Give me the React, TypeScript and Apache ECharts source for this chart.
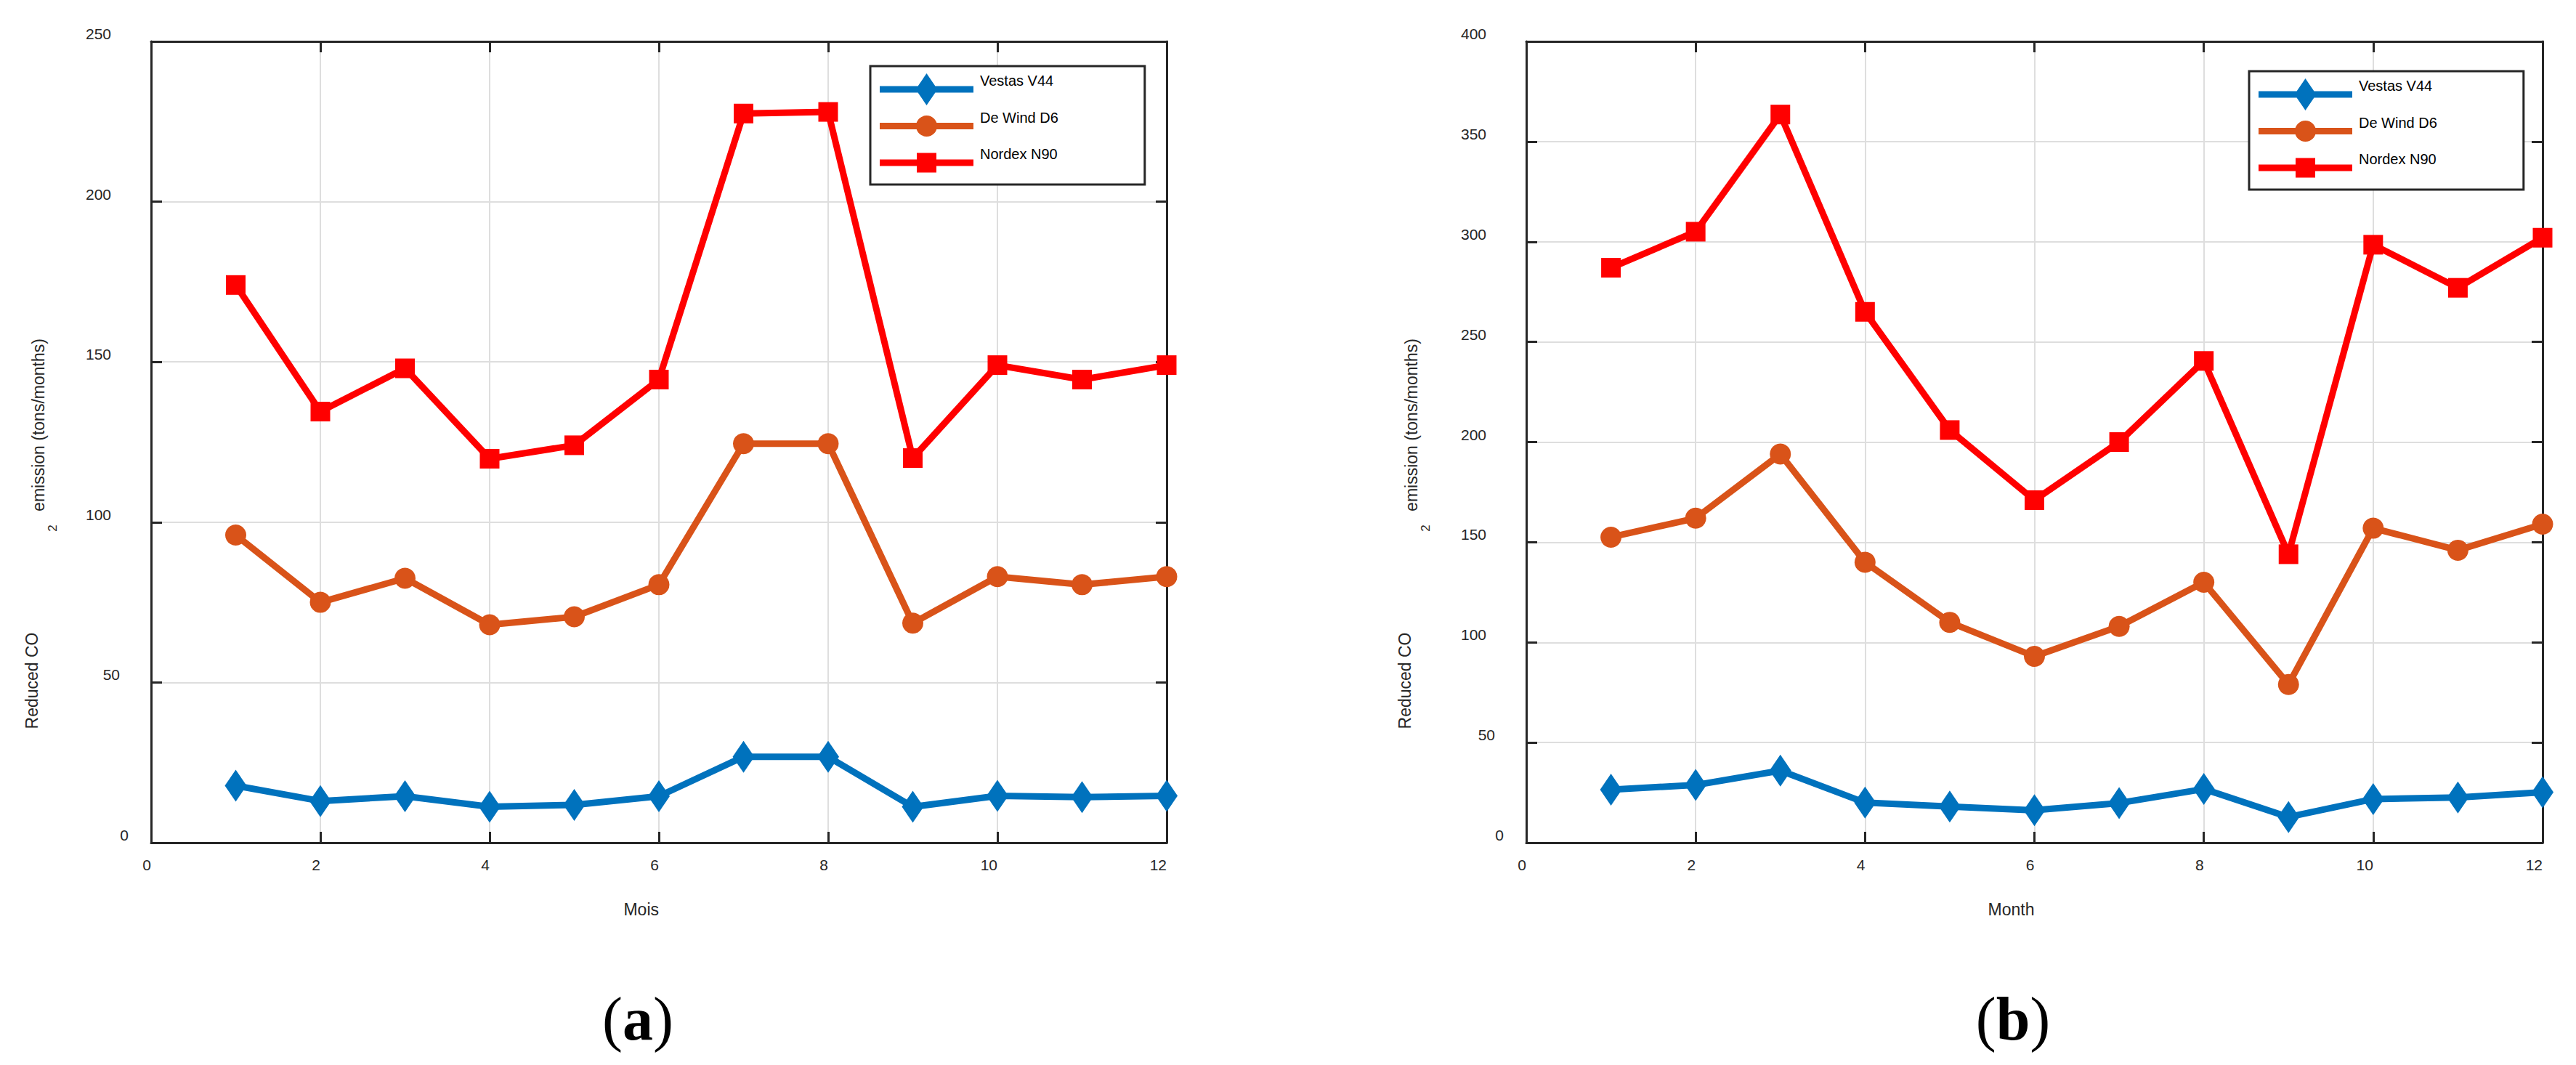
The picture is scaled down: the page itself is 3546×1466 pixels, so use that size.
import React, { useEffect, useRef } from "react";
import * as echarts from "echarts";

// ---------------- data ----------------
const months = [1, 2, 3, 4, 5, 6, 7, 8, 9, 10, 11, 12];
const seriesNames = ["Vestas V44", "De Wind D6", "Nordex N90"];

// panel (a)
const vestasA = [17.8, 13.0, 14.5, 11.2, 11.8, 14.5, 26.8, 26.8, 11.2, 14.6, 14.2, 14.6];
const deWindA = [96, 75, 82.5, 68, 70.5, 80.5, 124.5, 124.5, 68.5, 83, 80.5, 83];
const nordexA = [174, 134.5, 148, 119.8, 124, 144.5, 227.5, 228, 120, 149, 144.5, 149];

// panel (b)
const vestasB = [26.5, 28.8, 36, 20, 18, 16.2, 19.8, 26.8, 12.8, 21.8, 22.6, 25.2];
const deWindB = [152.5, 162, 194, 140, 110, 93, 108, 130, 79, 157, 146, 159];
const nordexB = [287, 305, 363.5, 265, 206, 171, 200, 240.5, 144, 298.5, 277, 302];

// axes
const xMin = 0;
const xMax = 12;
const xStep = 2;
const yMaxA = 250;
const yMaxB = 400;
const yStep = 50;
const xTitles = ["Mois", "Month"];
const yTitleMain = "Reduced CO";
const yTitleSub = "2";
const yTitleRest = "emission (tons/months)";
const captions = ["a", "b"];

// ---------------- styles ----------------
const FONT = "Liberation Sans";
const SERIF = "Liberation Serif";
const AXIS = "#262626";
const GRID = "#dedede";
const COLORS = ["#0072BD", "#D95319", "#FF0000"];

const ICONS = [
  "path://M0 17.5 L129 17.5 L129 26.5 L0 26.5 Z M64.5 0 L79.5 22 L64.5 44 L49.5 22 Z",
  "path://M0 17.5 L129 17.5 L129 26.5 L0 26.5 Z M50 22 A14.5 14.5 0 1 1 79 22 A14.5 14.5 0 1 1 50 22 Z M64 0 L64.02 0 L64.02 0.02 Z M64 43.98 L64.02 44 L64 44 Z",
  "path://M0 17.5 L129 17.5 L129 26.5 L0 26.5 Z M51 8.5 L78 8.5 L78 35.5 L51 35.5 Z M64 0 L64.02 0 L64.02 0.02 Z M64 43.98 L64.02 44 L64 44 Z",
];

function xBottom(gridIndex: number, name: string) {
  return {
    type: "value",
    gridIndex,
    position: "bottom",
    min: xMin,
    max: xMax,
    interval: xStep,
    axisLine: { show: true, onZero: false, lineStyle: { color: AXIS, width: 3 } },
    axisTick: { show: true, inside: true, length: 15, lineStyle: { color: AXIS, width: 3 } },
    axisLabel: {
      show: true,
      margin: 20,
      align: "right",
      color: AXIS,
      fontSize: 21,
      fontFamily: FONT,
    },
    splitLine: { show: true, lineStyle: { color: GRID, width: 2 } },
    name,
    nameLocation: "middle",
    nameGap: 80,
    nameTextStyle: { fontSize: 23, fontFamily: FONT, color: AXIS, align: "right" },
  };
}

function xTop(gridIndex: number) {
  return {
    type: "value",
    gridIndex,
    position: "top",
    min: xMin,
    max: xMax,
    interval: xStep,
    axisLine: { show: true, onZero: false, lineStyle: { color: AXIS, width: 3 } },
    axisTick: { show: true, inside: true, length: 15, lineStyle: { color: AXIS, width: 3 } },
    axisLabel: { show: false },
    splitLine: { show: false },
  };
}

const richLabel = (pad: number) => ({
  fontSize: 21,
  fontFamily: FONT,
  color: AXIS,
  padding: [0, pad, 0, 0],
});

function yLeft(gridIndex: number, max: number) {
  return {
    type: "value",
    gridIndex,
    position: "left",
    min: 0,
    max,
    interval: yStep,
    axisLine: { show: true, onZero: false, lineStyle: { color: AXIS, width: 3 } },
    axisTick: { show: true, inside: true, length: 15, lineStyle: { color: AXIS, width: 3 } },
    axisLabel: {
      show: true,
      margin: 31,
      align: "right",
      verticalAlign: "bottom",
      color: AXIS,
      fontSize: 21,
      fontFamily: FONT,
      formatter: (v: number) => {
        const s = String(v);
        return `{d${s.length}|${s}}`;
      },
      rich: { d1: richLabel(0), d2: richLabel(12), d3: richLabel(24) },
    },
    splitLine: { show: true, lineStyle: { color: GRID, width: 2 } },
  };
}

function yRight(gridIndex: number, max: number) {
  return {
    type: "value",
    gridIndex,
    position: "right",
    min: 0,
    max,
    interval: yStep,
    axisLine: { show: true, onZero: false, lineStyle: { color: AXIS, width: 3 } },
    axisTick: { show: true, inside: true, length: 15, lineStyle: { color: AXIS, width: 3 } },
    axisLabel: { show: false },
    splitLine: { show: false },
  };
}

const SYMBOLS: any[] = [
  ["diamond", [30, 44]],
  ["circle", 29],
  ["rect", 27],
];

function makeSeries(values: number[], idx: number, axisIndex: number) {
  const color = COLORS[idx];
  return {
    type: "line",
    name: seriesNames[idx],
    xAxisIndex: axisIndex,
    yAxisIndex: axisIndex,
    data: months.map((m, i) => [m, values[i]]),
    symbol: SYMBOLS[idx][0],
    symbolSize: SYMBOLS[idx][1],
    showSymbol: true,
    clip: false,
    lineStyle: { color, width: 9 },
    itemStyle: { color, borderWidth: 0 },
    emphasis: { disabled: true },
    z: 3 + idx,
  };
}

function makeLegend(left: number, top: number) {
  return {
    orient: "vertical",
    left,
    top,
    padding: [8, 119, 6, 13],
    itemWidth: 129,
    itemHeight: 44,
    itemGap: 2.5,
    borderColor: AXIS,
    borderWidth: 3,
    backgroundColor: "#ffffff",
    selectedMode: false,
    itemStyle: { borderWidth: 0 },
    formatter: (name: string) => name + "\n ",
    textStyle: {
      fontSize: 20,
      fontFamily: FONT,
      color: "#000",
      lineHeight: 24,
      padding: [0, 0, 0, 4],
    },
    data: seriesNames.map((n, i) => ({ name: n, icon: ICONS[i] })),
  };
}

function yTitleGraphics(dx: number) {
  const base = { fill: AXIS, fontFamily: FONT, align: "center", verticalAlign: "middle" };
  return [
    {
      type: "text",
      x: 44 + dx,
      y: 937,
      rotation: Math.PI / 2,
      style: { ...base, text: yTitleMain, fontSize: 23 },
    },
    {
      type: "text",
      x: 53 + dx,
      y: 585,
      rotation: Math.PI / 2,
      style: { ...base, text: yTitleRest, fontSize: 23 },
    },
    {
      type: "text",
      x: 72 + dx,
      y: 727,
      rotation: Math.PI / 2,
      style: { ...base, text: yTitleSub, fontSize: 17 },
    },
  ];
}

function captionGraphic(letter: string, x: number) {
  return {
    type: "text",
    x,
    y: 1402,
    style: {
      text: `{p|(}{b|${letter}}{p|)}`,
      align: "center",
      verticalAlign: "middle",
      fill: "#000",
      rich: {
        p: { fontFamily: SERIF, fontSize: 84, fill: "#000" },
        b: { fontFamily: SERIF, fontSize: 84, fontWeight: "bold", fill: "#000" },
      },
    },
  };
}

export default function App() {
  const ref = useRef<HTMLDivElement>(null);

  useEffect(() => {
    if (!ref.current) return;
    const chart = echarts.init(ref.current, null, { renderer: "svg" });
    const option: any = {
      animation: false,
      backgroundColor: "#ffffff",
      grid: [
        { left: 208, top: 57, width: 1398, height: 1103 },
        { left: 2101, top: 57, width: 1399, height: 1103 },
      ],
      xAxis: [xBottom(0, xTitles[0]), xTop(0), xBottom(1, xTitles[1]), xTop(1)],
      yAxis: [yLeft(0, yMaxA), yRight(0, yMaxA), yLeft(1, yMaxB), yRight(1, yMaxB)],
      legend: [makeLegend(1198, 91), makeLegend(3096, 98)],
      series: [
        makeSeries(vestasA, 0, 0),
        makeSeries(deWindA, 1, 0),
        makeSeries(nordexA, 2, 0),
        makeSeries(vestasB, 0, 2),
        makeSeries(deWindB, 1, 2),
        makeSeries(nordexB, 2, 2),
      ],
      graphic: [
        ...yTitleGraphics(0),
        ...yTitleGraphics(1890),
        captionGraphic(captions[0], 878),
        captionGraphic(captions[1], 2771),
      ],
    };
    chart.setOption(option);
    return () => chart.dispose();
  }, []);

  return (
    <div
      ref={ref}
      style={{ position: "fixed", left: 0, top: 0, width: 3546, height: 1466, background: "#fff" }}
    />
  );
}
